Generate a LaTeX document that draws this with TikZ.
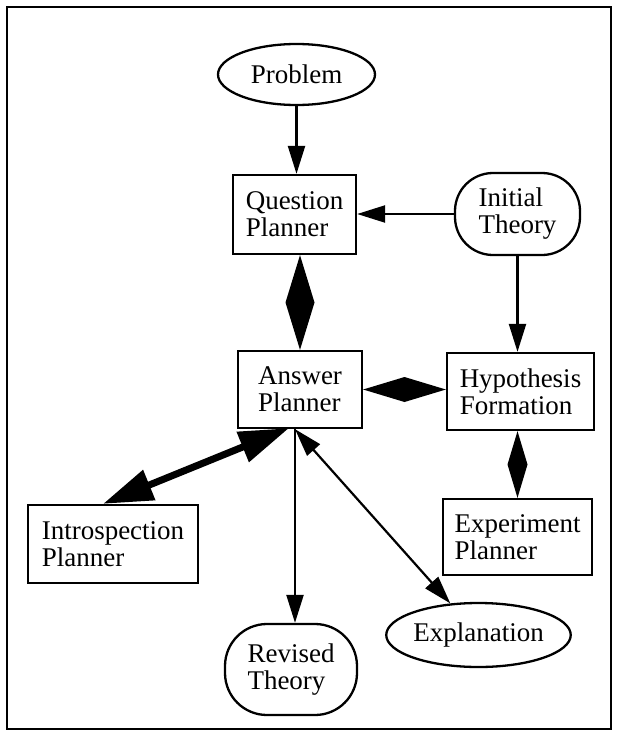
\documentclass[tikz,border=0pt]{standalone}
\usepackage{fontspec}
\setmainfont{Liberation Serif}
\usetikzlibrary{shapes.geometric,arrows.meta,calc}
\begin{document}
\begin{tikzpicture}[x=1pt,y=-1pt,
  every node/.style={font=\fontsize{27}{27}\selectfont, inner sep=0pt, align=left, line width=2.3pt, draw},
  boxnode/.style={rectangle},
  ovalnode/.style={ellipse},
  roundnode/.style={rectangle, rounded corners=38pt},
  conn/.style={line width=2.2pt},
  tip/.style={-{Triangle[length=28pt,width=17pt]}},
  dtip/.style={{Triangle[length=28pt,width=17pt]}-{Triangle[length=28pt,width=17pt]}},
  thick2/.style={line width=7pt,{Triangle[length=50pt,width=31pt]}-{Triangle[length=50pt,width=31pt]}},
]
\useasboundingbox (0,0) rectangle (617,739);
\draw[line width=2.2pt] (7,7) rectangle (611,729);

\node[ovalnode, minimum width=157pt, minimum height=61pt] (prob) at (296.5,74.5) {Problem};
\node[boxnode, minimum width=123pt, minimum height=79pt] (qp) at (294.5,214.5) {Question\\Planner};
\node[roundnode, minimum width=125pt, minimum height=82pt] (init) at (517.5,214) {Initial\\Theory};
\node[boxnode, minimum width=124pt, minimum height=77pt] (ans) at (300,389.5) {Answer\\Planner};
\node[boxnode, minimum width=147pt, minimum height=77pt] (hyp) at (520.5,391.5) {Hypothesis\\Formation};
\node[boxnode, minimum width=170pt, minimum height=78pt] (intro) at (113,544) {Introspection\\Planner};
\node[boxnode, minimum width=149pt, minimum height=76pt] (exp) at (517.5,537) {Experiment\\Planner};
\node[roundnode, rounded corners=42pt, minimum width=132pt, minimum height=91pt] (rev) at (291,669.5) {Revised\\Theory};
\node[ovalnode, minimum width=177pt, minimum height=64pt] (expl) at (478.5,635) {Explanation};

% simple arrows
\draw[conn,tip] (prob.south) -- (prob.south |- qp.north);
\draw[conn,tip] (init.west) -- (init.west -| qp.east);
\draw[conn,tip] (init.south) -- (init.south |- hyp.north);

% diamonds
\coordinate (d1a) at (qp.south -| ans.north);
\coordinate (d1b) at (ans.north);
\fill (d1a) -- ($(d1a)!0.5!(d1b)!14.5pt!90:(d1b)$) -- (d1b) -- ($(d1a)!0.5!(d1b)!14.5pt!-90:(d1b)$) -- cycle;
\coordinate (d2a) at (ans.east);
\coordinate (d2b) at (ans.east -| hyp.west);
\fill (d2a) -- ($(d2a)!0.5!(d2b)!12.5pt!90:(d2b)$) -- (d2b) -- ($(d2a)!0.5!(d2b)!12.5pt!-90:(d2b)$) -- cycle;
\coordinate (d3a) at (exp.north |- hyp.south);
\coordinate (d3b) at (exp.north);
\fill (d3a) -- ($(d3a)!0.5!(d3b)!10pt!90:(d3b)$) -- (d3b) -- ($(d3a)!0.5!(d3b)!10pt!-90:(d3b)$) -- cycle;

% answer planner hub
\coordinate (hub) at ([xshift=-5pt]ans.south);
\coordinate (itop) at ([xshift=-10pt]intro.north);
\draw[conn,tip] (hub) -- (hub |- rev.north);
\draw[conn,dtip] (hub) -- (expl);
\draw[thick2] ([xshift=-6pt,yshift=1pt]hub) -- (itop);
\end{tikzpicture}
\end{document}
